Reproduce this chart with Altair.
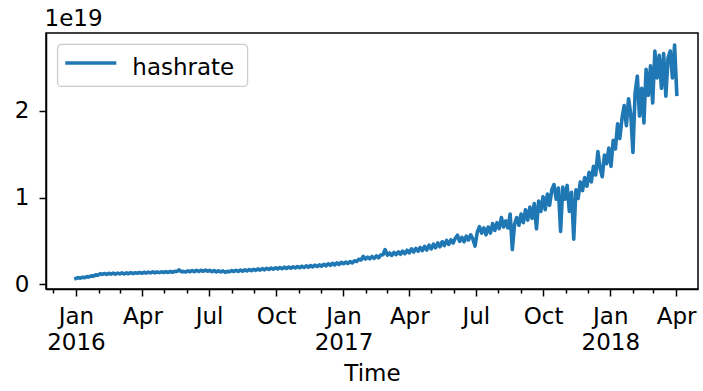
import altair as alt
import pandas as pd

# hashrate (units of 1e19), sampled every 3 days starting 2016-01-01
vals_2016 = [
    0.066, 0.076, 0.071, 0.080, 0.076, 0.088, 0.084, 0.096, 0.094, 0.108,
    0.104, 0.120, 0.114, 0.124, 0.114, 0.126, 0.117, 0.128, 0.115, 0.129,
    0.119, 0.131, 0.118, 0.132, 0.121, 0.134, 0.122, 0.133, 0.127, 0.135,
    0.126, 0.138, 0.129, 0.140, 0.131, 0.142, 0.132, 0.141, 0.134, 0.143,
    0.135, 0.145, 0.136, 0.147, 0.138, 0.148, 0.147, 0.166, 0.144, 0.148,
    0.142, 0.154, 0.144, 0.158, 0.146, 0.160, 0.148, 0.161, 0.150, 0.163,
    0.150, 0.160, 0.146, 0.158, 0.142, 0.156, 0.141, 0.154, 0.137, 0.148,
    0.144, 0.157, 0.147, 0.161, 0.149, 0.163, 0.151, 0.166, 0.153, 0.169,
    0.157, 0.173, 0.160, 0.177, 0.163, 0.180, 0.166, 0.183, 0.170, 0.187,
    0.174, 0.190, 0.177, 0.193, 0.179, 0.197, 0.182, 0.199, 0.185, 0.202,
    0.187, 0.205, 0.190, 0.208, 0.193, 0.212, 0.196, 0.216, 0.200, 0.220,
    0.204, 0.224, 0.207, 0.230, 0.212, 0.236, 0.218, 0.242, 0.222, 0.246,
    0.228, 0.252,
]
vals_2017 = [
    0.236, 0.256, 0.240, 0.262, 0.246, 0.270, 0.262, 0.288, 0.280, 0.322,
    0.290, 0.312, 0.292, 0.320, 0.298, 0.328, 0.305, 0.338, 0.340, 0.400,
    0.336, 0.360, 0.332, 0.366, 0.342, 0.374, 0.346, 0.382, 0.352, 0.392,
    0.362, 0.408, 0.372, 0.414, 0.380, 0.424, 0.388, 0.436, 0.395, 0.450,
    0.408, 0.462, 0.420, 0.476, 0.432, 0.490, 0.445, 0.505, 0.460, 0.512,
    0.475, 0.530, 0.565, 0.495, 0.540, 0.490, 0.555, 0.510, 0.570, 0.520,
    0.440, 0.600, 0.665, 0.590, 0.650, 0.570, 0.660, 0.590, 0.700, 0.620,
    0.710, 0.640, 0.770, 0.660, 0.730, 0.650, 0.810, 0.400, 0.690, 0.770,
    0.680, 0.810, 0.710, 0.860, 0.740, 0.890, 0.760, 0.930, 0.640, 0.960,
    0.840, 1.010, 0.860, 1.040, 0.910, 1.090, 1.150, 0.980, 1.110, 0.610,
    1.120, 0.980, 1.140, 0.840, 1.060, 0.520, 1.090, 0.990, 1.180, 1.080,
    1.230, 1.130, 1.290, 1.180, 1.360, 1.260, 1.530, 1.340, 1.240, 1.490,
    1.390, 1.570,
]
vals_2018 = [
    1.360, 1.660, 1.560, 1.850, 1.680, 1.910, 2.060, 1.830, 2.140, 1.960,
    1.520, 2.210, 2.400, 1.940, 2.260, 1.860, 2.480, 2.180, 2.520, 2.090,
    2.690, 2.380, 2.640, 2.260, 2.660, 2.170, 2.610, 2.690, 2.380, 2.760,
    2.190,
]
series_name = ["hashrate"]
offset_text = ["1e19"]
y_tick_values = [0, 1, 2]
y_domain = [-0.055, 2.898]
x_domain = ["2015-11-21", "2018-05-01"]
month_ticks = pd.date_range("2015-12-01", "2018-04-01", freq="MS")

hashrate = vals_2016 + vals_2017 + vals_2018
dates = pd.date_range("2016-01-01", periods=len(hashrate), freq="3D")
df = pd.DataFrame({
    "Time": dates.strftime("%Y-%m-%d"),
    "hashrate": hashrate,
    "series": series_name[0],
})
legend_df = pd.DataFrame({"series": series_name})
offset_df = pd.DataFrame({"label": offset_text})


def dt(ts):
    return alt.DateTime(year=ts.year, month=ts.month, date=ts.day, utc=True)


tick_values = [dt(t) for t in month_ticks]
dom = [dt(pd.Timestamp(d)) for d in x_domain]

FONT = "DejaVu Sans"
FS = 23
BLUE = "#1f77b4"

quarter = "utcmonth(datum.value) % 3 == 0"
label_expr = (
    f"{quarter} ? (utcmonth(datum.value) == 0 ? "
    "[utcFormat(datum.value, '%b'), utcFormat(datum.value, '%Y')] : "
    "utcFormat(datum.value, '%b')) : ''"
)

x_axis = alt.Axis(
    values=tick_values,
    labelExpr=label_expr,
    tickSize={"condition": {"test": quarter, "value": 7}, "value": 4},
    labelOverlap=False,
    labelFlush=False,
    labelBound=False,
    grid=False,
    domainColor="black",
    domainWidth=1.5,
    tickColor="black",
    tickWidth=1.5,
    labelFont=FONT,
    labelFontSize=FS,
    labelColor="black",
    labelPadding=9,
    labelLineHeight=26,
    titleFont=FONT,
    titleFontSize=FS,
    titleFontWeight="normal",
    titleColor="black",
    titlePadding=8,
)

y_axis = alt.Axis(
    values=y_tick_values,
    format="d",
    grid=False,
    domainColor="black",
    domainWidth=1.5,
    tickColor="black",
    tickWidth=1.5,
    tickSize=7,
    labelFont=FONT,
    labelFontSize=FS,
    labelColor="black",
    labelPadding=10,
)

line = alt.Chart(df).mark_line(
    color=BLUE, strokeWidth=3.6, strokeJoin="round", strokeCap="square", clip=True
).encode(
    x=alt.X("Time:T", scale=alt.Scale(type="utc", domain=dom), axis=x_axis, title="Time"),
    y=alt.Y("hashrate:Q", scale=alt.Scale(domain=y_domain, nice=False, zero=False),
            axis=y_axis, title=None),
)

legend_box = alt.Chart(legend_df).mark_rect(
    fill="white", fillOpacity=0.8, stroke="#cccccc", strokeWidth=1.3, cornerRadius=4
).encode(
    x=alt.value(11.6), x2=alt.value(201.6), y=alt.value(11.4), y2=alt.value(53.4)
)
legend_line = alt.Chart(legend_df).mark_rule(color=BLUE, strokeWidth=3.4).encode(
    x=alt.value(19.3), x2=alt.value(70.3), y=alt.value(30)
)
legend_text = alt.Chart(legend_df).mark_text(
    align="left", baseline="alphabetic", font=FONT, fontSize=FS, color="black"
).encode(
    x=alt.value(86.3), y=alt.value(41.7), text="series:N"
)
offset_label = alt.Chart(offset_df).mark_text(
    align="left", baseline="alphabetic", font=FONT, fontSize=FS, color="black"
).encode(
    x=alt.value(-1.5), y=alt.value(-7.5), text="label:N"
)

chart = alt.layer(line, legend_box, legend_line, legend_text, offset_label).properties(
    width=652,
    height=256,
    padding={"left": 46, "top": 33, "right": 5, "bottom": 102},
    autosize=alt.AutoSizeParams(type="none"),
    background="white",
).configure_view(stroke="black", strokeWidth=1.5)

chart.save("out.html", embed_options={"renderer": "svg", "actions": False})
